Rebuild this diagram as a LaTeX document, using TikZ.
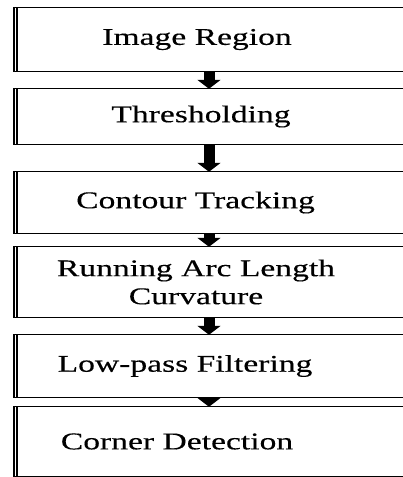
\documentclass[tikz,border=0pt]{standalone}
\usepackage{fontspec}
\setmainfont[FakeStretch=1.4,FakeBold=0.3]{Liberation Serif}
\usetikzlibrary{arrows.meta}
\begin{document}
\begin{tikzpicture}[
    x=1pt,y=1pt,
    every node/.style={inner sep=0pt,font=\fontsize{24}{28}\selectfont},
    stage/.style={align=center},
    frame/.style={line width=1.1pt},
    flow/.style={line width=11pt,-{Triangle[width=23pt,length=9pt]}}
  ]
  \useasboundingbox (0,0) rectangle (403,477);
  \coordinate (lft) at (14,0);
  \coordinate (rgt) at (430,0);
  \coordinate (ax) at (209,0);
  \node[stage,minimum height=63pt] (img) at (197,437.5) {Image Region};
  \node[stage,minimum height=55pt] (thr) at (201,360.5) {Thresholding};
  \node[stage,minimum height=61pt] (ctr) at (195.5,274.5) {Contour Tracking};
  \node[stage,minimum height=70pt] (arc) at (196,195) {Running Arc Length\\Curvature};
  \node[stage,minimum height=62pt] (lpf) at (185,111) {Low-pass Filtering};
  \node[stage,minimum height=69pt] (cor) at (177,35.5) {Corner Detection};
  \foreach \s in {img,thr,ctr,arc,lpf,cor}{
    \draw[frame] (\s.north -| lft) rectangle (\s.south -| rgt);
    \draw[frame] ([xshift=3pt]\s.north -| lft) -- ([xshift=3pt]\s.south -| lft);
  }
  \foreach \a/\b in {img/thr,thr/ctr,ctr/arc,arc/lpf,lpf/cor}
    \draw[flow] (\a.south -| ax) -- (\b.north -| ax);
\end{tikzpicture}
\end{document}
